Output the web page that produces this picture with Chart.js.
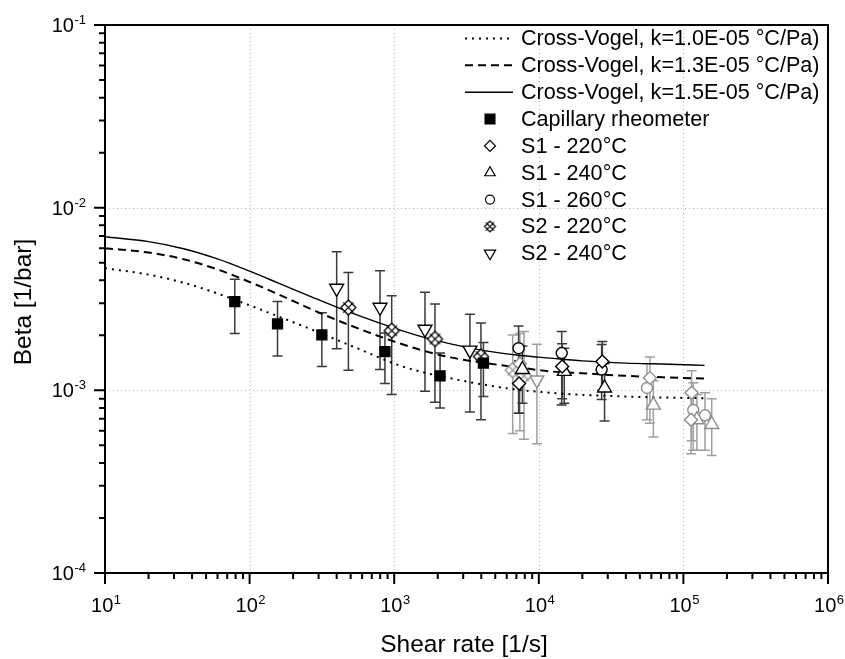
<!DOCTYPE html>
<html><head><meta charset="utf-8">
<script src="https://cdn.jsdelivr.net/npm/chart.js@4/dist/chart.umd.min.js"></script>
<style>html,body{margin:0;padding:0;background:#fff}canvas{display:block}</style>
</head><body>
<canvas id="c" width="845" height="659"></canvas>
<script>
// ---------------- data ----------------
const curveX = [10, 20, 35, 60, 100, 160, 270, 420, 630, 1000, 1500, 2500, 4000, 7000, 12000, 20000, 40000, 80000, 140000];
const cv10Y = [4.66e-3, 4.30e-3, 3.88e-3, 3.39e-3, 2.92e-3, 2.53e-3, 2.15e-3, 1.86e-3, 1.63e-3, 1.40e-3, 1.27e-3, 1.16e-3, 1.08e-3, 1.01e-3, 9.7e-4, 9.45e-4, 9.25e-4, 9.12e-4, 9.05e-4];
const cv13Y = [6.00e-3, 5.68e-3, 5.22e-3, 4.59e-3, 3.92e-3, 3.34e-3, 2.77e-3, 2.39e-3, 2.11e-3, 1.85e-3, 1.67e-3, 1.51e-3, 1.42e-3, 1.34e-3, 1.27e-3, 1.24e-3, 1.20e-3, 1.175e-3, 1.16e-3];
const cv15Y = [6.93e-3, 6.52e-3, 5.96e-3, 5.24e-3, 4.49e-3, 3.85e-3, 3.24e-3, 2.81e-3, 2.49e-3, 2.19e-3, 1.98e-3, 1.79e-3, 1.66e-3, 1.56e-3, 1.50e-3, 1.45e-3, 1.41e-3, 1.39e-3, 1.37e-3];

const capX  = [79, 156, 316, 863, 2075, 4140];
const capY  = [3.06e-3, 2.31e-3, 2.01e-3, 1.63e-3, 1.20e-3, 1.41e-3];
const capLo = [2.05e-3, 1.54e-3, 1.35e-3, 1.09e-3, 8.0e-4, 9.25e-4];
const capHi = [4.05e-3, 3.06e-3, 2.66e-3, 2.06e-3, 1.60e-3, 1.83e-3];

const s1t220X  = [7300, 14500, 27500];
const s1t220Y  = [1.09e-3, 1.35e-3, 1.44e-3];
const s1t220Lo = [7.5e-4, 9.0e-4, 1.0e-3];
const s1t220Hi = [1.45e-3, 1.80e-3, 1.85e-3];

const s1t240X  = [7700, 15000, 28500];
const s1t240Y  = [1.30e-3, 1.27e-3, 1.03e-3];
const s1t240Lo = [8.5e-4, 8.5e-4, 6.8e-4];
const s1t240Hi = [1.75e-3, 1.70e-3, 1.40e-3];

const s1t260X  = [7250, 14400, 27200];
const s1t260Y  = [1.70e-3, 1.60e-3, 1.30e-3];
const s1t260Lo = [7.5e-4, 8.3e-4, 8.9e-4];
const s1t260Hi = [2.25e-3, 2.10e-3, 1.78e-3];

const s2t220X  = [482, 961, 1914, 3980];
const s2t220Y  = [2.84e-3, 2.12e-3, 1.91e-3, 1.53e-3];
const s2t220Lo = [1.29e-3, 9.5e-4, 8.6e-4, 6.9e-4];
const s2t220Hi = [4.41e-3, 3.29e-3, 2.97e-3, 2.34e-3];

const s2t240X  = [400, 798, 1633, 3340];
const s2t240Y  = [3.62e-3, 2.85e-3, 2.16e-3, 1.66e-3];
const s2t240Lo = [1.69e-3, 1.30e-3, 9.9e-4, 7.6e-4];
const s2t240Hi = [5.74e-3, 4.51e-3, 3.44e-3, 2.61e-3];

// second (grey) measurement set
const g1t220X  = [7400, 58700, 114000, 113000];
const g1t220Y  = [1.40e-3, 1.17e-3, 9.7e-4, 6.9e-4];
const g1t220Lo = [6.0e-4, 6.6e-4, 5.3e-4, 4.5e-4];
const g1t220Hi = [2.05e-3, 1.52e-3, 1.28e-3, 9.7e-4];

const g1t240X  = [62000, 124000, 157000];
const g1t240Y  = [8.3e-4, 6.9e-4, 6.5e-4];
const g1t240Lo = [5.55e-4, 4.7e-4, 4.4e-4];
const g1t240Hi = [1.13e-3, 9.5e-4, 9.0e-4];

const g1t260X  = [56000, 117000, 141000];
const g1t260Y  = [1.03e-3, 7.8e-4, 7.3e-4];
const g1t260Lo = [6.9e-4, 4.7e-4, 4.7e-4];
const g1t260Hi = [1.40e-3, 1.10e-3, 9.7e-4];

const g2t220X  = [6600, 7900];
const g2t220Y  = [1.29e-3, 1.20e-3];
const g2t220Lo = [5.8e-4, 5.4e-4];
const g2t220Hi = [2.01e-3, 2.10e-3];

const g2t240X  = [9700];
const g2t240Y  = [1.14e-3];
const g2t240Lo = [5.1e-4];
const g2t240Hi = [1.79e-3];

const xTickExps = [1, 2, 3, 4, 5, 6];
const yTickExps = [-4, -3, -2, -1];
const xTitle = 'Shear rate [1/s]';
const yTitle = 'Beta [1/bar]';
const legendOrder = [
  'Cross-Vogel, k=1.0E-05 °C/Pa)',
  'Cross-Vogel, k=1.3E-05 °C/Pa)',
  'Cross-Vogel, k=1.5E-05 °C/Pa)',
  'Capillary rheometer',
  'S1 - 220°C',
  'S1 - 240°C',
  'S1 - 260°C',
  'S2 - 220°C',
  'S2 - 240°C'
];

// ---------------- styling ----------------
const FONT = "Arial, 'Liberation Sans', Helvetica, sans-serif";
const BLACK = '#000000';
const GREY = '#8c8c8c';
const ERR_BLACK = '#3a3a3a';
const ERR_GREY = '#a0a0a0';

function crossDiamond(color, r, lw) {
  const ext = 2;
  const s = Math.ceil(2 * r + 2 * ext + 4), c = s / 2;
  const cv = document.createElement('canvas');
  cv.width = cv.height = s;
  const g = cv.getContext('2d');
  g.lineWidth = lw; g.strokeStyle = color; g.fillStyle = '#fff';
  const L = [c - r, c], T = [c, c - r], R = [c + r, c], B = [c, c + r];
  g.beginPath(); g.moveTo(L[0], L[1]); g.lineTo(T[0], T[1]); g.lineTo(R[0], R[1]); g.lineTo(B[0], B[1]); g.closePath();
  g.fill(); g.stroke();
  // X through the edge midpoints, slightly overshooting the outline
  const k = ext / Math.SQRT2;
  g.beginPath();
  g.moveTo(c - r / 2 - k, c - r / 2 - k); g.lineTo(c + r / 2 + k, c + r / 2 + k);
  g.moveTo(c + r / 2 + k, c - r / 2 - k); g.lineTo(c - r / 2 - k, c + r / 2 + k);
  g.stroke();
  return cv;
}
const xdBlack = crossDiamond(BLACK, 7.5, 1.3);
const xdGrey = crossDiamond(GREY, 7.5, 1.3);
const xdLegend = crossDiamond(BLACK, 5.5, 1.1);

const pts = (xs, ys) => xs.map((x, i) => ({ x, y: ys[i] }));

function curve(label, ys, dash, width) {
  return { label, data: pts(curveX, ys), showLine: true, borderColor: BLACK, borderWidth: width,
    borderDash: dash, pointRadius: 0, pointHoverRadius: 0, cubicInterpolationMode: 'monotone', order: 5, fill: false };
}
function marks(label, xs, ys, lo, hi, style, radius, color, fillColor, errColor, rotation, ord, legend, legR) {
  return { label, data: pts(xs, ys), showLine: false, pointStyle: style, pointRadius: radius, pointHoverRadius: radius,
    pointRotation: rotation || 0, pointBorderColor: color, pointBackgroundColor: fillColor, pointBorderWidth: 1.4,
    errLo: lo, errHi: hi, errColor, order: ord, inLegend: legend, legendRadius: legR };
}

const datasets = [
  curve(legendOrder[0], cv10Y, [2, 5], 2),
  curve(legendOrder[1], cv13Y, [8, 5], 2),
  curve(legendOrder[2], cv15Y, [], 1.4),
  // grey set (not in legend)
  marks('g S1-220', g1t220X, g1t220Y, g1t220Lo, g1t220Hi, 'rectRot', 6.5, GREY, '#fff', ERR_GREY, 0, 3, false),
  marks('g S1-240', g1t240X, g1t240Y, g1t240Lo, g1t240Hi, 'triangle', 8, GREY, '#fff', ERR_GREY, 0, 3, false),
  marks('g S1-260', g1t260X, g1t260Y, g1t260Lo, g1t260Hi, 'circle', 5.5, GREY, '#fff', ERR_GREY, 0, 3, false),
  marks('g S2-220', g2t220X, g2t220Y, g2t220Lo, g2t220Hi, xdGrey, 7, GREY, '#fff', ERR_GREY, 0, 3, false),
  marks('g S2-240', g2t240X, g2t240Y, g2t240Lo, g2t240Hi, 'triangle', 8, GREY, '#fff', ERR_GREY, 180, 3, false),
  // black set
  marks(legendOrder[3], capX, capY, capLo, capHi, 'rect', 7, BLACK, BLACK, ERR_BLACK, 0, 1, true, 7),
  marks(legendOrder[4], s1t220X, s1t220Y, s1t220Lo, s1t220Hi, 'rectRot', 6.5, BLACK, '#fff', ERR_BLACK, 0, 1, true, 5.5),
  marks(legendOrder[5], s1t240X, s1t240Y, s1t240Lo, s1t240Hi, 'triangle', 8, BLACK, '#fff', ERR_BLACK, 0, 1, true, 6),
  marks(legendOrder[6], s1t260X, s1t260Y, s1t260Lo, s1t260Hi, 'circle', 5.5, BLACK, '#fff', ERR_BLACK, 0, 1, true, 4.5),
  marks(legendOrder[7], s2t220X, s2t220Y, s2t220Lo, s2t220Hi, xdBlack, 7, BLACK, '#fff', ERR_BLACK, 0, 1, true, 6),
  marks(legendOrder[8], s2t240X, s2t240Y, s2t240Lo, s2t240Hi, 'triangle', 8, BLACK, '#fff', ERR_BLACK, 180, 1, true, 6.5)
];

function drawSup(ctx, base, exp, x, y, align) {
  ctx.font = '20px ' + FONT;
  const wb = ctx.measureText(base).width;
  ctx.font = '13px ' + FONT;
  const we = ctx.measureText(exp).width;
  const total = wb + we + 0.5;
  const x0 = align === 'center' ? x - total / 2 : x - total;
  ctx.textAlign = 'left'; ctx.textBaseline = 'alphabetic';
  ctx.font = '20px ' + FONT; ctx.fillText(base, x0, y);
  ctx.font = '13px ' + FONT; ctx.fillText(exp, x0 + wb + 0.5, y - 8);
}

function ptDraw(ctx, opts, x, y) {
  if (Chart.helpers && Chart.helpers.drawPoint) { Chart.helpers.drawPoint(ctx, opts, x, y); return; }
  ctx.beginPath(); ctx.arc(x, y, opts.radius, 0, Math.PI * 2); ctx.fill(); ctx.stroke();
}

const decor = {
  id: 'decor',
  beforeDatasetsDraw(chart) {
    const { ctx, chartArea: a, scales: { x, y } } = chart;
    ctx.save();
    ctx.strokeStyle = '#b8b8b8'; ctx.lineWidth = 1; ctx.setLineDash([1, 3]);
    xTickExps.forEach(e => {
      const px = Math.round(x.getPixelForValue(Math.pow(10, e))) + 0.5;
      if (px < a.left + 3 || px > a.right - 3) return;
      ctx.beginPath(); ctx.moveTo(px, a.top); ctx.lineTo(px, a.bottom); ctx.stroke();
    });
    yTickExps.forEach(e => {
      const py = Math.round(y.getPixelForValue(Math.pow(10, e))) + 0.5;
      if (py < a.top + 3 || py > a.bottom - 3) return;
      ctx.beginPath(); ctx.moveTo(a.left, py); ctx.lineTo(a.right, py); ctx.stroke();
    });
    ctx.setLineDash([]);
    ctx.lineWidth = 1.5;
    chart.data.datasets.forEach(ds => {
      if (!ds.errLo) return;
      ctx.strokeStyle = ds.errColor;
      ds.data.forEach((p, i) => {
        const px = x.getPixelForValue(p.x);
        const lo = y.getPixelForValue(ds.errLo[i]);
        const hi = y.getPixelForValue(ds.errHi[i]);
        ctx.beginPath();
        ctx.moveTo(px, lo); ctx.lineTo(px, hi);
        ctx.moveTo(px - 5, lo); ctx.lineTo(px + 5, lo);
        ctx.moveTo(px - 5, hi); ctx.lineTo(px + 5, hi);
        ctx.stroke();
      });
    });
    ctx.restore();
  },
  afterDraw(chart) {
    const { ctx, chartArea: a, scales: { x, y } } = chart;
    ctx.save();
    ctx.fillStyle = '#000'; ctx.strokeStyle = '#000'; ctx.lineWidth = 2;
    ctx.strokeRect(a.left, a.top, a.right - a.left, a.bottom - a.top);
    const xmin = xTickExps[0], xmax = xTickExps[xTickExps.length - 1];
    ctx.beginPath();
    for (let d = xmin; d <= xmax; d++) {
      const px = x.getPixelForValue(Math.pow(10, d));
      ctx.moveTo(px, a.bottom); ctx.lineTo(px, a.bottom + 11);
      if (d < xmax) for (let m = 2; m <= 9; m++) {
        const pm = x.getPixelForValue(m * Math.pow(10, d));
        ctx.moveTo(pm, a.bottom); ctx.lineTo(pm, a.bottom + 6);
      }
    }
    const ymin = yTickExps[0], ymax = yTickExps[yTickExps.length - 1];
    for (let d = ymin; d <= ymax; d++) {
      const py = y.getPixelForValue(Math.pow(10, d));
      ctx.moveTo(a.left, py); ctx.lineTo(a.left - 11, py);
      if (d < ymax) for (let m = 2; m <= 9; m++) {
        const pm = y.getPixelForValue(m * Math.pow(10, d));
        ctx.moveTo(a.left, pm); ctx.lineTo(a.left - 6, pm);
      }
    }
    ctx.stroke();
    xTickExps.forEach(e => drawSup(ctx, '10', String(e), x.getPixelForValue(Math.pow(10, e)) + 1, a.bottom + 39, 'center'));
    yTickExps.forEach(e => drawSup(ctx, '10', String(e), a.left - 19, y.getPixelForValue(Math.pow(10, e)) + 7, 'right'));
    ctx.font = '24.5px ' + FONT; ctx.textAlign = 'center'; ctx.textBaseline = 'alphabetic';
    ctx.fillText(xTitle, (a.left + a.right) / 2 - 2.5, 652);
    ctx.save();
    ctx.translate(31, (a.top + a.bottom) / 2 + 3);
    ctx.rotate(-Math.PI / 2);
    ctx.fillText(yTitle, 0, 0);
    ctx.restore();
    // legend
    const lx0 = 465, lx1 = 513, mx = 490, tx = 521, y0 = 38.5, step = 26.85;
    ctx.font = '21.6px ' + FONT; ctx.textAlign = 'left'; ctx.textBaseline = 'middle';
    legendOrder.forEach((lab, i) => {
      const ds = chart.data.datasets.find(d => d.label === lab);
      const ly = y0 + i * step;
      ctx.save();
      if (ds.showLine) {
        ctx.strokeStyle = ds.borderColor; ctx.lineWidth = ds.borderWidth; ctx.setLineDash(ds.borderDash || []);
        ctx.beginPath(); ctx.moveTo(lx0, ly); ctx.lineTo(lx1, ly); ctx.stroke();
      } else {
        ctx.fillStyle = ds.pointBackgroundColor; ctx.strokeStyle = ds.pointBorderColor; ctx.lineWidth = 1.2;
        const style = (typeof ds.pointStyle === 'string') ? ds.pointStyle : xdLegend;
        ptDraw(ctx, { pointStyle: style, rotation: ds.pointRotation, radius: ds.legendRadius, borderWidth: 1.2 }, mx, ly);
      }
      ctx.restore();
      ctx.fillStyle = '#000';
      ctx.fillText(lab, tx, ly + 1);
    });
    ctx.restore();
  }
};

new Chart(document.getElementById('c'), {
  type: 'scatter',
  data: { datasets },
  options: {
    responsive: false,
    devicePixelRatio: 1,
    animation: false,
    layout: { padding: { left: 105, right: 17, top: 25, bottom: 86 } },
    plugins: { legend: { display: false }, tooltip: { enabled: false } },
    scales: {
      x: { type: 'logarithmic', min: Math.pow(10, xTickExps[0]), max: Math.pow(10, xTickExps[xTickExps.length - 1]), display: false },
      y: { type: 'logarithmic', min: Math.pow(10, yTickExps[0]), max: Math.pow(10, yTickExps[yTickExps.length - 1]), display: false }
    }
  },
  plugins: [decor]
});
</script>
</body></html>
